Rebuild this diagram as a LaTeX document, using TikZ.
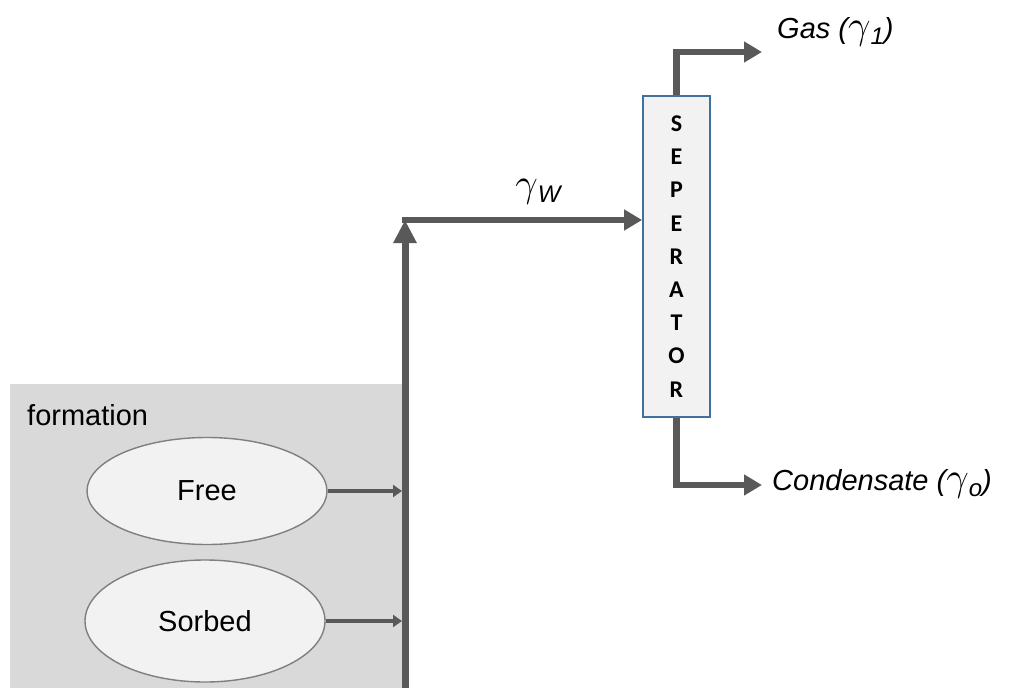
\documentclass[tikz,border=0pt]{standalone}
\usepackage{fix-cm}
\usepackage{fontspec}
\setmainfont{Liberation Sans}
\newfontfamily\sepfont{Carlito}
\usepackage{tikz}
\usetikzlibrary{positioning,shapes.geometric,arrows.meta}
\definecolor{pipegray}{HTML}{595959}
\definecolor{rockgray}{HTML}{D9D9D9}
\definecolor{phasefill}{HTML}{F2F2F2}
\definecolor{phaseedge}{HTML}{7F7F7F}
\definecolor{sepedge}{HTML}{41719C}
% a larger gamma and index, to sit with the sans labels
\newcommand{\ggam}{{\fontsize{40}{40}\selectfont$\gamma$}}
\newcommand{\lowidx}[1]{\raisebox{-6pt}{\fontsize{24}{24}\selectfont #1}}
\tikzset{
  % --- boxes and phases ------------------------------------------------------
  formbox/.style={rectangle,fill=rockgray,draw=none,inner sep=0pt},
  phase/.style={ellipse,draw=phaseedge,fill=phasefill,line width=1.4pt,
                inner sep=0pt,font=\fontsize{29}{34}\selectfont},
  sepbox/.style={rectangle,draw=sepedge,fill=phasefill,line width=1.8pt,
                 minimum width=67pt,minimum height=321pt,align=center,
                 font=\sepfont\bfseries\fontsize{24}{33.2}\selectfont},
  lab/.style={inner sep=0pt,text=black,font=\fontsize{29}{34}\selectfont},
  outlab/.style={lab,font=\fontsize{29}{34}\selectfont\itshape},
  % --- pipes -----------------------------------------------------------------
  flow/.style={-{Triangle[length=18pt,width=20pt]},pipegray,line width=6.5pt},
  riserflow/.style={-{Triangle[length=23pt,width=22pt]},pipegray,line width=7pt},
  feed/.style={-{Triangle[length=9pt,width=12pt]},pipegray,line width=3.8pt,
               shorten >=3pt},
}
\begin{document}
\begin{tikzpicture}[x=1pt,y=-1pt]
  \useasboundingbox (0,0) rectangle (1029,688);

  % reservoir side
  \node[formbox,minimum width=395pt,minimum height=304pt] (formation) at (207.5,536) {};
  \node[lab,anchor=base west] (formlab) at (27,425) {formation};
  \node[phase,minimum width=240pt,minimum height=107pt] (free)   at (207,491) {Free};
  \node[phase,minimum width=240pt,minimum height=122pt] (sorbed) at (205,621) {Sorbed};

  \coordinate (well)  at (405,688);
  \coordinate (riser) at (405,220);

  \draw[feed] (free.east) -- (free.east -| well);
  \draw[feed] (sorbed.east) -- (sorbed.east -| well);
  \draw[riserflow] (well) -- (riser);

  % separator and its outlets
  \node[sepbox] (sep) at (676.5,256.5) {S\\E\\P\\E\\R\\A\\T\\O\\R};
  \draw[flow] ([xshift=-3pt]riser) -- (riser -| sep.west);
  \node[outlab] (gw) at (538,192) {\ggam\lowidx{W}};

  \coordinate (gasout)  at (762,52);
  \coordinate (condout) at (762,485);
  \draw[flow] (sep.north) |- (gasout);
  \draw[flow] (sep.south) |- (condout);

  \node[outlab,anchor=west] (gas)  at (777,32)  {Gas (\ggam\lowidx{1})};
  \node[outlab,anchor=west] (cond) at (772,484) {Condensate (\ggam\lowidx{o})};
\end{tikzpicture}
\end{document}
